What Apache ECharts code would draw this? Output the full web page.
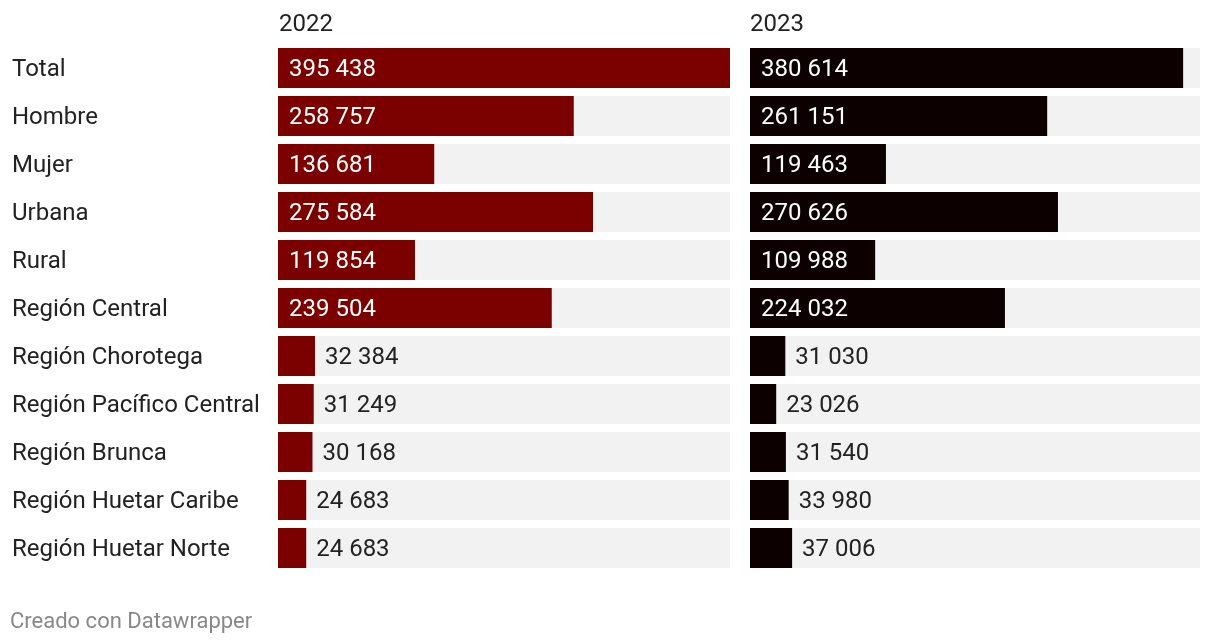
<!DOCTYPE html>
<html><head><meta charset="utf-8">
<script src="https://cdn.jsdelivr.net/npm/echarts@6/dist/echarts.min.js"></script>
<style>html,body{margin:0;padding:0;background:#fff}#c{width:1220px;height:644px}</style>
</head><body><div id="c"></div>
<script>
const categories = ['Total','Hombre','Mujer','Urbana','Rural','Región Central','Región Chorotega','Región Pacífico Central','Región Brunca','Región Huetar Caribe','Región Huetar Norte'];
const years = ['2022','2023'];
const values2022 = [395438,258757,136681,275584,119854,239504,32384,31249,30168,24683,24683];
const values2023 = [380614,261151,119463,270626,109988,224032,31030,23026,31540,33980,37006];
const scaleMax = 395438;

const FONT = 'Roboto';
const FS = 24;
function fmt(v){ return String(v).replace(/\B(?=(\d{3})+(?!\d))/g, ' '); }
function items(vals){
  return vals.map(v => {
    const inside = v > 60000;
    return {
      value: v,
      label: inside
        ? {position:'insideLeft', distance:11, color:'#fff'}
        : {position:'right', distance:10, color:'#222'}
    };
  });
}
const grids = [{left:278, width:452, top:44, height:528},{left:750, width:450, top:44, height:528}];
const colors = ['#7b0000','#0d0000'];
const chart = echarts.init(document.getElementById('c'));
chart.setOption({
  animation:false,
  textStyle:{fontFamily:FONT},
  grid: grids,
  xAxis: grids.map((g,i)=>({type:'value', gridIndex:i, min:0, max:scaleMax, show:false})),
  yAxis: grids.map((g,i)=>({
    type:'category', gridIndex:i, data:categories, inverse:true,
    axisLine:{show:false}, axisTick:{show:false},
    axisLabel: i===0 ? {show:true, align:'left', margin:266, fontSize:FS, color:'#222', fontFamily:FONT,
      formatter: v => '{a|' + v + '}',
      rich:{a:{fontSize:FS, fontFamily:FONT, color:'#222', padding:[4,0,0,0]}}} : {show:false}
  })),
  series: [values2022, values2023].map((vals,i)=>({
    type:'bar', xAxisIndex:i, yAxisIndex:i, barWidth:40,
    data: items(vals),
    itemStyle:{color:colors[i]},
    showBackground:true, backgroundStyle:{color:'#f2f2f2'},
    label:{show:true, fontSize:FS, fontFamily:FONT, formatter:p=>fmt(p.value), offset:[0,2]}
  })),
  graphic: [
    {type:'text', x:279, y:25, style:{text:years[0], fontSize:FS, fontFamily:FONT, fill:'#222', textVerticalAlign:'middle'}},
    {type:'text', x:750, y:25, style:{text:years[1], fontSize:FS, fontFamily:FONT, fill:'#222', textVerticalAlign:'middle'}},
    {type:'text', x:10, y:622, style:{text:'Creado con Datawrapper', fontSize:22, fontFamily:FONT, fill:'#888', textVerticalAlign:'middle'}}
  ]
});
</script></body></html>
